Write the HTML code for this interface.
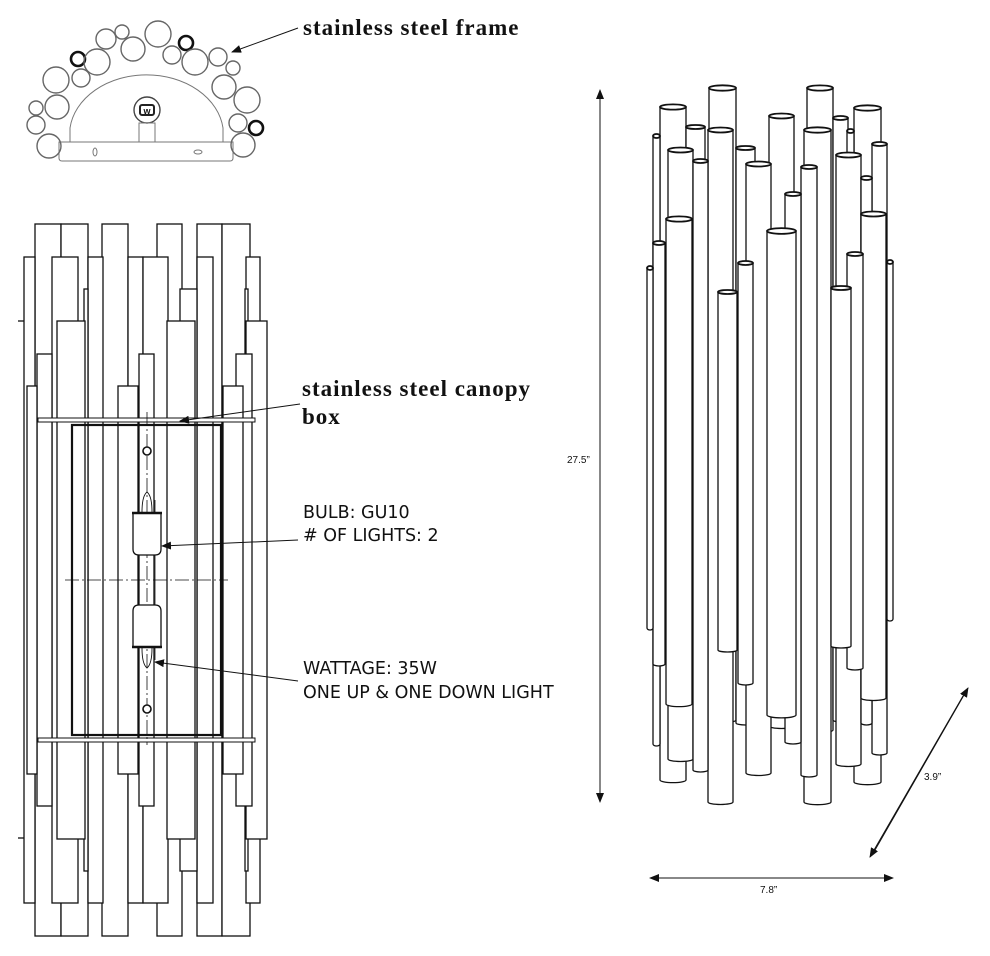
<!DOCTYPE html>
<html><head><meta charset="utf-8"><style>
html,body{margin:0;padding:0;background:#fff;width:990px;height:956px;overflow:hidden}
svg{position:absolute;left:0;top:0}
.b{font-family:"Liberation Serif",serif;font-weight:bold;font-size:23px;letter-spacing:1px;fill:#111}
.s{font-family:"DejaVu Sans","Liberation Sans",sans-serif;font-size:17.5px;fill:#111}
.d{font-family:"Liberation Sans",sans-serif;font-size:10px;fill:#111}
</style></head><body>
<svg id="g" width="990" height="956" viewBox="0 0 990 956" xmlns="http://www.w3.org/2000/svg">
<defs><marker id="ah" markerWidth="10" markerHeight="8" refX="9" refY="4" orient="auto" markerUnits="userSpaceOnUse"><path d="M0,0 L10,4 L0,8z" fill="#111"/></marker></defs>
<g id="front" fill="#fff" stroke="#111" stroke-width="1.3"></g>
<g id="top" fill="none" stroke="#555" stroke-width="1.4"></g>
<g id="tubes" fill="#fff" stroke="#111" stroke-width="1.3"></g>
<text class="b" x="303" y="35">stainless steel frame</text>
<text class="b" x="302" y="396">stainless steel canopy</text>
<text class="b" x="302" y="424">box</text>
<text class="s" x="303" y="518">BULB: GU10</text>
<text class="s" x="303" y="541">&#35; OF LIGHTS: 2</text>
<text class="s" x="303" y="674">WATTAGE: 35W</text>
<text class="s" x="303" y="698">ONE UP &amp; ONE DOWN LIGHT</text>
<g stroke="#111" stroke-width="1">
<line x1="298" y1="28" x2="232" y2="52" marker-end="url(#ah)"/>
<line x1="300" y1="404" x2="180" y2="421" marker-end="url(#ah)"/>
<line x1="298" y1="540" x2="162" y2="546" marker-end="url(#ah)"/>
<line x1="298" y1="681" x2="155" y2="662" marker-end="url(#ah)"/>
<line x1="600" y1="100" x2="600" y2="802" marker-end="url(#ah)"/>
<line x1="600" y1="795" x2="600" y2="90" marker-end="url(#ah)"/>
<line x1="660" y1="878" x2="893" y2="878" marker-end="url(#ah)"/>
<line x1="885" y1="878" x2="650" y2="878" marker-end="url(#ah)"/>
<line x1="875" y1="850" x2="968" y2="688" marker-end="url(#ah)"/>
<line x1="963" y1="696" x2="870" y2="857" marker-end="url(#ah)"/>
</g>
<text class="d" x="567" y="463">27.5”</text>
<text class="d" x="760" y="893">7.8”</text>
<text class="d" x="924" y="780">3.9”</text>
</svg>
<script>
var NS="http://www.w3.org/2000/svg";
function el(p,t,a){var e=document.createElementNS(NS,t);for(var k in a)e.setAttribute(k,a[k]);p.appendChild(e);return e;}
var F=document.getElementById('front');
var R=[[35,61,224],[61,88,224],[102,128,224],[157,182,224],[197,222,224],[222,250,224],
[24,35,257],[52,78,257],[88,103,257],[128,143,257],[143,168,257],[197,213,257],[246,260,257],
[84,88,289],[180,197,289],[245,248,289],
[57,85,321],[167,195,321],[246,267,321],
[37,52,354],[139,154,354],[236,252,354],
[27,37,386],[118,138,386],[223,243,386]];
R.forEach(function(r){el(F,'rect',{x:r[0],y:r[2],width:r[1]-r[0],height:1160-2*r[2]});});
el(F,'line',{x1:18,y1:321,x2:24,y2:321});el(F,'line',{x1:18,y1:838,x2:24,y2:838});
el(F,'rect',{x:38,y:418,width:217,height:4,'stroke-width':1});
el(F,'rect',{x:38,y:738,width:217,height:4,'stroke-width':1});
el(F,'rect',{x:72,y:425,width:149,height:310,fill:'none','stroke-width':2.2});
el(F,'line',{x1:147,y1:412,x2:147,y2:745,'stroke-dasharray':'14 3 2 3','stroke-width':0.8});
el(F,'line',{x1:65,y1:580,x2:228,y2:580,'stroke-dasharray':'14 3 2 3','stroke-width':0.8});
el(F,'line',{x1:139,y1:500,x2:139,y2:660,'stroke-width':0.8});el(F,'line',{x1:155,y1:500,x2:155,y2:660,'stroke-width':0.8});
el(F,'circle',{cx:147,cy:451,r:4,'stroke-width':1.6});el(F,'circle',{cx:147,cy:709,r:4,'stroke-width':1.6});
el(F,'path',{d:'M133,513 h28 v36 q0,6 -6,6 h-16 q-6,0 -6,-6z'});el(F,'line',{x1:132,y1:513,x2:162,y2:513,'stroke-width':2.5});
el(F,'path',{d:'M133,647 h28 v-36 q0,-6 -6,-6 h-16 q-6,0 -6,6z'});el(F,'line',{x1:132,y1:647,x2:162,y2:647,'stroke-width':2.5});
el(F,'path',{d:'M142,512 q0,-16 5,-20 q5,4 5,20',fill:'none','stroke-width':0.9});
el(F,'path',{d:'M142,648 q0,16 5,20 q5,-4 5,-20',fill:'none','stroke-width':0.9});
var T=document.getElementById('top');
el(T,'path',{d:'M70,142 L70,128 A77,60 0 0 1 223,128 L223,142',stroke:'#777','stroke-width':1});
el(T,'path',{d:'M59,142 L59,158 q0,3 3,3 H230 q3,0 3,-3 V142 Z',stroke:'#777','stroke-width':1});
el(T,'circle',{cx:147,cy:110,r:13,stroke:'#444'});
el(T,'rect',{x:140,y:105,width:14,height:10,rx:2,stroke:'#222','stroke-width':2});
el(T,'text',{x:147,y:114,'font-size':9,'font-weight':'bold','text-anchor':'middle',fill:'#111',stroke:'none','font-family':'Liberation Sans'}).textContent='w';
el(T,'rect',{x:139,y:123,width:16,height:19,stroke:'#777','stroke-width':1});
el(T,'ellipse',{cx:95,cy:152,rx:2,ry:4,stroke:'#777','stroke-width':1});
el(T,'ellipse',{cx:198,cy:152,rx:4,ry:2,stroke:'#777','stroke-width':1});
var C=[[122,32,7],[158,34,13],[106,39,10],[186,43,7,1],[133,49,12],[78,59,7,1],[97,62,13],[172,55,9],[195,62,13],[218,57,9],[233,68,7],[56,80,13],[81,78,9],[224,87,12],[247,100,13],[57,107,12],[36,108,7],[36,125,9],[238,123,9],[256,128,7,1],[49,146,12],[243,145,12]];
C.forEach(function(c){el(T,'circle',{cx:c[0],cy:c[1],r:c[2],stroke:c[3]?'#111':'#666','stroke-width':c[3]?2.6:1.4});});
var U=[[709,736,88,720],[807,833,88,730],[660,686,107,780],[854,881,108,782],[769,794,116,726],[833,848,118,720],[686,705,127,730],[708,733,130,802],[804,831,130,802],[847,854,131,720],[653,660,136,744],[872,887,144,753],[736,755,148,723],[668,693,150,759],[836,861,155,764],[693,708,161,770],[746,771,164,773],[801,817,167,775],[861,872,178,723],[785,801,194,742],[861,886,214,698],[666,692,219,704],[767,796,231,715],[653,665,243,664],[847,863,254,668],[887,893,262,619],[738,753,263,683],[647,653,268,628],[831,851,288,646],[718,737,292,650]];
var G=document.getElementById('tubes');
U.forEach(function(t){var x1=t[0],x2=t[1],y1=t[2],y2=t[3],rx=(x2-x1)/2,ry=Math.max(2,rx*0.2);
el(G,'path',{d:'M'+x1+','+y1+' V'+y2+' A'+rx+','+ry+' 0 0 0 '+x2+','+y2+' V'+y1+' Z'});
el(G,'ellipse',{cx:(x1+x2)/2,cy:y1,rx:rx,ry:ry,'stroke-width':1.8});});
</script>
</body></html>
